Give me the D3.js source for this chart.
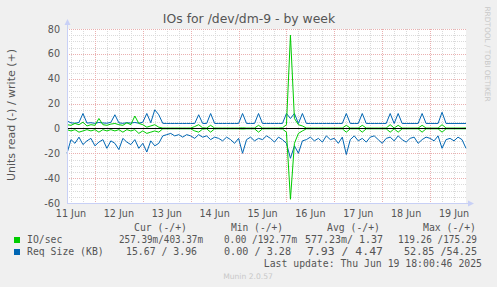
<!DOCTYPE html>
<html>
<head>
<meta charset="utf-8">
<script src="https://cdn.jsdelivr.net/npm/d3@7"></script>
<style>
  body { margin: 0; background: #f0f0f0; }
  svg { display: block; }
</style>
</head>
<body>
<div id="chart"></div>
<script>
// values, one sample every 2 hours
// from 11 Jun 10:00 to 19 Jun 18:00 (101 samples)
var ioWrite = [3, 2.5, 4, 3, 5, 2, 3, 2.5, 8, 3,
  2.5, 3.5, 4, 3, 2.5, 4.5, 3, 10, 4, 3,
  1, 2, 3, 1, 0.3, 0.3, 0.3, 0.3, 0.3, 0.3,
  0.3, 0.3, 1.5, 3, 0.5, 0.3, 2.5, 0.3, 0.3, 0.3,
  0.3, 0.3, 0.3, 0.3, 0.5, 0.3, 0.3, 0.3, 2.5, 0.3,
  0.3, 0.3, 0.3, 0.3, 0.5, 3, 75, 8, 3, 2,
  0.3, 0.3, 0.3, 0.3, 0.3, 0.3, 0.3, 0.3, 0.3, 0.3,
  2.5, 0.3, 0.3, 0.3, 2.5, 0.3, 0.3, 0.3, 0.3, 0.3,
  0.3, 3, 0.3, 2.5, 0.3, 0.3, 0.3, 0.3, 0.3, 2.5,
  0.3, 0.3, 0.3, 0.3, 3, 0.3, 0.3, 0.3, 0.3, 0.3,
  0.4];
var ioRead = [-1, -2, -1, -3, -2, -1, -2, -1, -3, -1,
  -2, -1, -2, -1, -3, -1, -2, -1, -4, -2,
  -4, -3, -2, -3, -0.3, -0.3, -0.3, -0.3, -0.3, -0.3,
  -0.3, -0.3, -2, -3, -0.5, -0.3, -3, -0.3, -0.3, -0.3,
  -0.3, -0.3, -0.3, -0.3, -0.5, -0.3, -0.3, -0.3, -3, -0.3,
  -0.3, -0.3, -0.3, -0.3, -0.5, -3, -57, -12, -4, -2,
  -0.3, -0.3, -0.3, -0.3, -0.3, -0.3, -0.3, -0.3, -0.3, -0.3,
  -3, -0.3, -0.3, -0.3, -3, -0.3, -0.3, -0.3, -0.3, -0.3,
  -0.3, -3, -0.3, -3, -0.3, -0.3, -0.3, -0.3, -0.3, -3,
  -0.3, -0.3, -0.3, -0.3, -3, -0.3, -0.3, -0.3, -0.3, -0.3,
  -0.3];
var sizeWrite = [6, 4.5, 4.2, 4.8, 12, 4.3, 4.6, 4.1, 4.8, 4.4,
  4.2, 4.9, 11, 4.5, 4.1, 4.6, 4.3, 4.8, 4.2, 5,
  12, 4.6, 15, 11, 4.1, 4, 4, 4, 4, 4,
  4, 4, 4, 11, 4, 4, 12, 4, 4, 4,
  4, 4, 4, 4, 12, 4, 4, 4, 12, 4,
  4, 4, 4, 4, 4, 12, 8, 12, 4, 12,
  4, 4, 4, 4, 4, 4, 4, 4, 4, 4,
  12, 4, 4, 4, 12, 4, 4, 4, 4, 4,
  4, 12, 4, 12, 4, 4, 4, 4, 4, 12,
  4, 4, 4, 4, 13, 4, 4, 4, 4, 4,
  4];
var sizeRead = [-20, -9, -12, -7, -13, -10, -8, -14, -11, -9,
  -16, -10, -12, -17, -8, -11, -13, -9, -16, -12,
  -19, -10, -14, -12, -6, -5, -4, -6, -5, -7,
  -5, -6, -8, -5, -7, -6, -9, -7, -8, -10,
  -7, -9, -12, -8, -20, -9, -7, -10, -8, -9,
  -6, -8, -11, -7, -9, -12, -24, -14, -20, -10,
  -9, -7, -10, -8, -11, -6, -9, -8, -12, -7,
  -21, -9, -6, -10, -8, -11, -7, -6, -9, -12,
  -8, -7, -10, -6, -9, -11, -8, -7, -12, -9,
  -7, -8, -10, -6, -16, -9, -8, -10, -7, -9,
  -16];

var dayLabels = ["11 Jun", "12 Jun", "13 Jun", "14 Jun", "15 Jun", "16 Jun", "17 Jun", "18 Jun", "19 Jun"];
var yTickValues = [-60, -40, -20, 0, 20, 40, 60, 80];

var legendHeaders = ["Cur (-/+)", "Min (-/+)", "Avg (-/+)", "Max (-/+)"];
var seriesNames = ["IO/sec", "Req Size (KB)"];
var ioStats = ["257.39m/403.37m", "0.00 /192.77m", "577.23m/ 1.37", "119.26 /175.29"];
var sizeStats = ["15.67 / 3.96", "0.00 / 3.28", "7.93 / 4.47", "52.85 /54.25"];

// layout (start x, end x) for legend columns
var headerPos = [[134, 187], [231, 283], [327, 380], [423, 476]];
var ioPos = [[119, 203], [224, 297], [305, 383], [398, 477]];
var sizePos = [[126, 197], [224, 291], [307, 383], [404, 477]];

var W = 497, H = 287;
var plot = {left: 67, right: 466, top: 29, bottom: 203};

var svg = d3.select("#chart").append("svg")
    .attr("width", W)
    .attr("height", H)
    .style("background-color", "#f0f0f0");

var start = new Date(2025, 5, 11, 10, 0);
var end = new Date(2025, 5, 19, 18, 0);
var times = ioWrite.map(function(d, i) { return d3.timeHour.offset(start, 2 * i); });

var x = d3.scaleTime().domain([start, end]).range([plot.left, plot.right]);
var y = d3.scaleLinear().domain([-60, 80]).range([plot.bottom, plot.top]);

// canvas
svg.append("rect")
    .attr("x", plot.left).attr("y", plot.top)
    .attr("width", plot.right - plot.left).attr("height", plot.bottom - plot.top)
    .attr("fill", "#ffffff");

var grid = svg.append("g").attr("shape-rendering", "crispEdges");

// minor grid
var minorY = d3.range(-60, 81, 5).filter(function(v) { return v % 20 !== 0; });
grid.selectAll(".my").data(minorY).enter().append("line")
    .attr("x1", plot.left).attr("x2", plot.right)
    .attr("y1", function(d) { return Math.round(y(d)) + 0.5; })
    .attr("y2", function(d) { return Math.round(y(d)) + 0.5; })
    .attr("stroke", "#dadada").attr("stroke-dasharray", "1,1");

var minorX = d3.timeHour.every(6).range(start, end).filter(function(t) { return t.getHours() !== 0; });
grid.selectAll(".mx").data(minorX).enter().append("line")
    .attr("x1", function(d) { return Math.round(x(d)) + 0.5; })
    .attr("x2", function(d) { return Math.round(x(d)) + 0.5; })
    .attr("y1", plot.top).attr("y2", plot.bottom)
    .attr("stroke", "#dadada").attr("stroke-dasharray", "1,1");

// major grid
grid.selectAll(".My").data(yTickValues).enter().append("line")
    .attr("x1", plot.left).attr("x2", plot.right)
    .attr("y1", function(d) { return Math.round(y(d)) + 0.5; })
    .attr("y2", function(d) { return Math.round(y(d)) + 0.5; })
    .attr("stroke", "#eab0b0").attr("stroke-dasharray", "1,1");

var majorX = d3.timeDay.every(1).range(start, end).filter(function(t) { return t > start; });
grid.selectAll(".Mx").data(majorX).enter().append("line")
    .attr("x1", function(d) { return Math.round(x(d)) + 0.5; })
    .attr("x2", function(d) { return Math.round(x(d)) + 0.5; })
    .attr("y1", plot.top).attr("y2", plot.bottom)
    .attr("stroke", "#eab0b0").attr("stroke-dasharray", "1,1");

// data lines
function drawLine(values, color) {
  var line = d3.line()
      .x(function(d, i) { return x(times[i]); })
      .y(function(d) { return y(d); });
  svg.append("path")
      .datum(values)
      .attr("d", line)
      .attr("fill", "none")
      .attr("stroke", color)
      .attr("stroke-width", 1);
}
drawLine(sizeRead, "#0066b3");
drawLine(sizeWrite, "#0066b3");
drawLine(ioRead, "#00cc00");
drawLine(ioWrite, "#00cc00");

// zero line
svg.append("line")
    .attr("x1", plot.left).attr("x2", plot.right)
    .attr("y1", Math.round(y(0)) + 0.5).attr("y2", Math.round(y(0)) + 0.5)
    .attr("stroke", "#000").attr("stroke-width", 1);

// axes with arrows
var axisColor = "#c8d0f6";
svg.append("line")
    .attr("x1", plot.left + 0.5).attr("x2", plot.left + 0.5)
    .attr("y1", plot.bottom).attr("y2", 24)
    .attr("stroke", axisColor);
svg.append("path")
    .attr("d", "M" + (plot.left - 2.5) + ",25 L" + (plot.left + 3.5) + ",25 L" + (plot.left + 0.5) + ",19 Z")
    .attr("fill", axisColor);
svg.append("line")
    .attr("x1", plot.left).attr("x2", 469)
    .attr("y1", plot.bottom + 0.5).attr("y2", plot.bottom + 0.5)
    .attr("stroke", axisColor);
svg.append("path")
    .attr("d", "M468," + (plot.bottom - 2.5) + " L468," + (plot.bottom + 3.5) + " L474," + (plot.bottom + 0.5) + " Z")
    .attr("fill", axisColor);

// tick labels
var font = "DejaVu Sans, sans-serif";
var mono = "DejaVu Sans Mono, monospace";
var textColor = "#555";

svg.selectAll(".yl").data(yTickValues).enter().append("text")
    .attr("x", 60)
    .attr("y", function(d) { return y(d) + 3.5; })
    .attr("text-anchor", "end")
    .style("font-family", font).style("font-size", "9.6px")
    .style("fill", textColor)
    .text(function(d) { return d; });

svg.selectAll(".xl").data(dayLabels).enter().append("text")
    .attr("x", function(d, i) { return x(new Date(2025, 5, 11 + i, 12, 0)); })
    .attr("y", 217)
    .attr("text-anchor", "middle")
    .style("font-family", font).style("font-size", "9.6px")
    .style("fill", textColor)
    .text(function(d) { return d; });

// title and axis label
svg.append("text")
    .attr("x", 249).attr("y", 23)
    .attr("text-anchor", "middle")
    .style("font-family", font).style("font-size", "12.4px")
    .style("fill", textColor)
    .text("IOs for /dev/dm-9 - by week");

svg.append("text")
    .attr("transform", "translate(15,115) rotate(-90)")
    .attr("text-anchor", "middle")
    .style("font-family", font).style("font-size", "11px")
    .style("fill", textColor)
    .text("Units read (-) / write (+)");

svg.append("text")
    .attr("transform", "translate(484.5,54) rotate(90)")
    .attr("text-anchor", "middle")
    .style("font-family", font).style("font-size", "7.4px")
    .style("fill", "#c8c8c8")
    .text("RRDTOOL / TOBI OETIKER");

// legend
function legendText(str, pos, yy) {
  svg.append("text")
      .attr("x", pos[0]).attr("y", yy)
      .attr("textLength", pos[1] - pos[0])
      .attr("lengthAdjust", "spacingAndGlyphs")
      .attr("xml:space", "preserve")
      .style("font-family", mono).style("font-size", "9.8px")
      .style("fill", textColor)
      .text(str);
}
legendHeaders.forEach(function(h, i) { legendText(h, headerPos[i], 231); });
ioStats.forEach(function(s, i) { legendText(s, ioPos[i], 243); });
sizeStats.forEach(function(s, i) { legendText(s, sizePos[i], 255); });

var legendColors = ["#00cc00", "#0066b3"];
seriesNames.forEach(function(n, i) {
  svg.append("rect")
      .attr("x", 14).attr("y", 237 + 12 * i)
      .attr("width", 6).attr("height", 6)
      .attr("fill", legendColors[i]);
  svg.append("text")
      .attr("x", 27).attr("y", 243 + 12 * i)
      .style("font-family", mono).style("font-size", "9.8px")
      .style("fill", textColor)
      .text(n);
});

svg.append("text")
    .attr("x", 482).attr("y", 267)
    .attr("text-anchor", "end")
    .style("font-family", mono).style("font-size", "9.8px")
    .style("fill", textColor)
    .text("Last update: Thu Jun 19 18:00:46 2025");

svg.append("text")
    .attr("x", 248).attr("y", 279)
    .attr("text-anchor", "middle")
    .style("font-family", font).style("font-size", "7.6px")
    .style("fill", "#c8c8c8")
    .text("Munin 2.0.57");
</script>
</body>
</html>
